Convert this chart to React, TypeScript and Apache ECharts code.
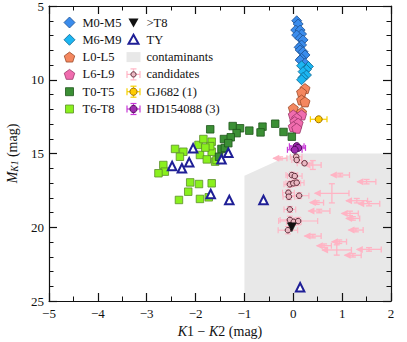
import React, { useEffect, useRef } from "react";
import * as echarts from "echarts";

// ---------------- data ----------------
const m05X = [0.07, 0.10, 0.05, 0.14, 0.17, 0.07, 0.14, 0.20, 0.17, 0.12, 0.14, 0.20, 0.24, 0.17, 0.14, 0.24];
const m05Y = [6.00, 6.22, 6.63, 6.63, 6.90, 6.97, 7.19, 7.30, 7.64, 7.80, 7.98, 8.10, 8.32, 8.55, 8.66, 8.88];
const m69X = [0.17, 0.31, 0.27, 0.20, 0.27, 0.20, 0.17];
const m69Y = [9.05, 9.10, 9.30, 9.45, 9.68, 9.84, 10.00];
const l05X = [0.24, 0.17, 0.17, 0.24, 0.00, 0.17];
const l05Y = [10.60, 10.85, 11.37, 11.50, 11.94, 12.20];
const l69X = [0.00, 0.17, 0.07, 0.03, 0.10, 0.00, 0.07];
const l69Y = [12.39, 12.39, 12.61, 12.84, 12.95, 13.18, 13.29];
const t05X = [-1.70, -1.24, -1.09, -1.16, -0.90, -0.63, -0.67, -0.37, -0.20, -0.03, -1.42, -1.28, -1.47, -1.52, -1.40, -1.33];
const t05Y = [13.36, 13.14, 13.29, 13.62, 13.45, 13.18, 13.57, 12.98, 13.54, 13.86, 14.02, 13.90, 14.69, 15.22, 14.62, 14.30];
const t68X = [-2.42, -2.25, -2.32, -2.66, -2.63, -2.76, -1.94, -1.84, -1.67, -1.67, -1.91, -1.77, -1.60, -1.70, -2.11, -1.93, -1.67, -2.15, -1.91, -2.34, -1.73, -1.57, -1.80];
const t68Y = [14.69, 14.88, 15.22, 15.78, 16.23, 16.34, 14.42, 14.02, 14.20, 14.88, 15.10, 15.40, 15.55, 14.50, 16.96, 17.07, 17.02, 17.59, 18.08, 18.15, 17.97, 15.44, 14.60];
const gtT8X = [-0.03];
const gtT8Y = [20.0];
const tyX = [-2.05, -2.48, -2.28, -2.13, -1.47, -1.33, -1.69, -1.31, -0.61, 0.14];
const tyY = [14.65, 15.85, 16.00, 15.60, 15.39, 14.95, 17.75, 18.15, 18.15, 24.07];

const contamX = [-1, -1, 0, 2, 2];
const contamY = [25, 16.5, 15, 15, 25];

const candX = [0.06, 0.07, 0.23, -0.03, 0.03, -0.07, 0.00, 0.07, -0.10, -0.09, 0.12, -0.07, -0.07, 0.01, 0.10, -0.11];
const candY = [15.22, 15.44, 15.66, 16.46, 16.53, 17.09, 17.02, 16.98, 17.66, 17.93, 17.86, 18.79, 19.50, 19.63, 19.58, 20.20];
const candXErr = [0.12, 0.10, 0.15, 0.12, 0.15, 0.12, 0.15, 0.15, 0.12, 0.12, 0.20, 0.12, 0.20, 0.15, 0.40, 0.20];
const candYErr = [0.15, 0.15, 0.15, 0.20, 0.20, 0.20, 0.20, 0.20, 0.20, 0.20, 0.20, 0.20, 0.25, 0.25, 0.25, 0.25];

const limX = [-0.27, 0.40, 0.96, 1.50, 0.79, 1.30, 1.55, 0.48, 0.53, 1.16, 1.22, 1.28, 0.40, 0.94, 0.63, 0.89, 1.55, 1.22];
const limY = [15.33, 15.78, 16.46, 16.91, 17.70, 18.20, 18.40, 18.33, 18.90, 19.06, 19.40, 20.19, 20.60, 20.98, 21.25, 21.54, 21.50, 21.90];
const limXErr = [0.14, 0.17, 0.19, 0.19, 0.35, 0.22, 0.22, 0.14, 0.22, 0.17, 0.14, 0.15, 0.17, 0.15, 0.15, 0.30, 0.25, 0.17];
const limYErr = [0.10, 0.30, 0.12, 0.15, 0.65, 0.15, 0.15, 0.12, 0.12, 0.15, 0.12, 0.12, 0.12, 0.12, 0.12, 0.35, 0.12, 0.12];

const gjX = [0.52];
const gjY = [12.68];
const gjXErr = [0.17];
const gjYErr = [0.08];

const hdX = [0.07, 0.10, 0.03];
const hdY = [14.50, 14.62, 14.75];
const hdXErr = [0.15, 0.15, 0.15];
const hdYErr = [0.10, 0.10, 0.10];

const legendLeft = ["M0-M5", "M6-M9", "L0-L5", "L6-L9", "T0-T5", "T6-T8"];
const legendRight = [">T8", "TY", "contaminants", "candidates", "GJ682 (1)", "HD154088 (3)"];

const xMin = -5, xMax = 2, xStep = 1;
const yMin = 5, yMax = 25, yStep = 5;

// ---------------- styles ----------------
const FONT = "'Liberation Serif', 'Times New Roman', serif";
const C = {
  m05: "#3a8cec", m05b: "#1d4f8f",
  m69: "#1cb6f2", m69b: "#0d6690",
  l05: "#f4875f", l05b: "#9a4a2a",
  l69: "#f06cae", l69b: "#9a3468",
  t05: "#3b8f35", t05b: "#1e561b",
  t68: "#8af01e", t68b: "#5b8e28",
  ty: "#1f1f96",
  contam: "#e8e8e8",
  cand: "#eab8c2", candb: "#5a2a36", candErr: "#ffb4c4",
  gj: "#ffcc00", gjb: "#a07000", gjErr: "#f5d000",
  hd: "#a02cb0", hdb: "#4f0f5a", hdErr: "#c83ad8",
};

const pentagon = "path://M0,-1L0.951,-0.309L0.588,0.809L-0.588,0.809L-0.951,-0.309Z";
const pts = (xs: number[], ys: number[]) => xs.map((x, i) => [x, ys[i]]);
const quad = (xs: number[], ys: number[], ex: number[], ey: number[]) => xs.map((x, i) => [x, ys[i], ex[i], ey[i]]);
const minus = (v: number) => (v < 0 ? "\u2212" + Math.abs(v) : String(v));

function ln(a: number[], b: number[], stroke: string, lw: number) {
  return { type: "line", shape: { x1: a[0], y1: a[1], x2: b[0], y2: b[1] }, style: { stroke, lineWidth: lw } };
}

function errRender(color: string, cap: number, lw: number, arrow: boolean) {
  return (params: any, api: any) => {
    const x = api.value(0), y = api.value(1), ex = api.value(2), ey = api.value(3);
    const l = api.coord([x - ex, y]);
    const r = api.coord([x + ex, y]);
    const t = api.coord([x, y - ey]);
    const b = api.coord([x, y + ey]);
    const ch: any[] = [];
    ch.push(ln(l, r, color, lw));
    ch.push(ln([r[0], r[1] - cap], [r[0], r[1] + cap], color, lw));
    if (arrow) {
      ch.push({
        type: "polygon",
        shape: { points: [[l[0] - 1, l[1]], [l[0] + 6, l[1] - 3.5], [l[0] + 6, l[1] + 3.5]] },
        style: { fill: color },
      });
    } else {
      ch.push(ln([l[0], l[1] - cap], [l[0], l[1] + cap], color, lw));
    }
    ch.push(ln(t, b, color, lw));
    ch.push(ln([t[0] - cap, t[1]], [t[0] + cap, t[1]], color, lw));
    ch.push(ln([b[0] - cap, b[1]], [b[0] + cap, b[1]], color, lw));
    return { type: "group", children: ch };
  };
}

function errSeries(name: string, data: any[], color: string, cap: number, lw: number, arrow = false, z = 3) {
  return {
    type: "custom", name, silent: true, z,
    data, encode: { x: 0, y: 1 },
    renderItem: errRender(color, cap, lw, arrow),
  };
}

function scatter(name: string, data: any[], symbol: string, size: number, color: string, border: string, bw = 0.8, z = 5, rotate = 0) {
  return {
    type: "scatter", name, data, symbol, symbolSize: size, symbolRotate: rotate, z,
    itemStyle: { color, borderColor: border, borderWidth: bw, opacity: 1 },
    emphasis: { disabled: true },
  };
}

// ---------------- legend (graphic) ----------------
function legendGraphic() {
  const rows = [22.5, 39.8, 57.1, 74.4, 91.7, 109];
  const xL = 69.5, tL = 82.5, xR = 133.5, tR = 146.5;
  const els: any[] = [];
  const txt = (x: number, y: number, s: string) => ({
    type: "text", x, y,
    style: { text: s, fontFamily: FONT, fontSize: 12.5, fill: "#111", verticalAlign: "middle", align: "left" },
  });
  const penta = (cx: number, cy: number, r: number) =>
    [0, 1, 2, 3, 4].map((k) => {
      const a = -Math.PI / 2 + (k * 2 * Math.PI) / 5;
      return [cx + r * Math.cos(a), cy + r * Math.sin(a)];
    });
  const diamond = (cx: number, cy: number, r: number) => [[cx, cy - r], [cx + r, cy], [cx, cy + r], [cx - r, cy]];
  els.push({ type: "polygon", shape: { points: diamond(xL, rows[0], 5.5) }, style: { fill: C.m05, stroke: C.m05b, lineWidth: 0.8 } });
  els.push({ type: "polygon", shape: { points: diamond(xL, rows[1], 5.5) }, style: { fill: C.m69, stroke: C.m69b, lineWidth: 0.8 } });
  els.push({ type: "polygon", shape: { points: penta(xL, rows[2] + 0.5, 5.5) }, style: { fill: C.l05, stroke: C.l05b, lineWidth: 0.8 } });
  els.push({ type: "polygon", shape: { points: penta(xL, rows[3] + 0.5, 5.5) }, style: { fill: C.l69, stroke: C.l69b, lineWidth: 0.8 } });
  els.push({ type: "rect", shape: { x: xL - 4, y: rows[4] - 4, width: 8, height: 8 }, style: { fill: C.t05, stroke: C.t05b, lineWidth: 0.8 } });
  els.push({ type: "rect", shape: { x: xL - 4, y: rows[5] - 4, width: 8, height: 8 }, style: { fill: C.t68, stroke: C.t68b, lineWidth: 0.8 } });
  legendLeft.forEach((s, i) => els.push(txt(tL, rows[i], s)));
  els.push({ type: "polygon", shape: { points: [[xR - 5, rows[0] - 4], [xR + 5, rows[0] - 4], [xR, rows[0] + 5]] }, style: { fill: "#111" } });
  els.push({ type: "polygon", shape: { points: [[xR, rows[1] - 5], [xR + 5, rows[1] + 4], [xR - 5, rows[1] + 4]] }, style: { fill: "#fff", stroke: C.ty, lineWidth: 2 } });
  els.push({ type: "rect", shape: { x: xR - 7, y: rows[2] - 5, width: 14, height: 10 }, style: { fill: C.contam } });
  const errIcon = (cy: number, ec: string, fc: string, bc: string, r: number) => {
    els.push(ln([xR - 6.5, cy], [xR + 6.5, cy], ec, 1.2));
    els.push(ln([xR - 6.5, cy - 3.5], [xR - 6.5, cy + 3.5], ec, 1.2));
    els.push(ln([xR + 6.5, cy - 3.5], [xR + 6.5, cy + 3.5], ec, 1.2));
    els.push(ln([xR, cy - 5.5], [xR, cy + 5.5], ec, 1.2));
    els.push(ln([xR - 3, cy - 5.5], [xR + 3, cy - 5.5], ec, 1.2));
    els.push(ln([xR - 3, cy + 5.5], [xR + 3, cy + 5.5], ec, 1.2));
    els.push({ type: "circle", shape: { cx: xR, cy, r }, style: { fill: fc, stroke: bc, lineWidth: 1 } });
  };
  errIcon(rows[3], C.candErr, C.cand, C.candb, 2.6);
  errIcon(rows[4], C.gjErr, C.gj, C.gjb, 3.6);
  errIcon(rows[5], C.hdErr, C.hd, C.hdb, 3.6);
  legendRight.forEach((s, i) => els.push(txt(tR, rows[i], s)));
  return els;
}

// ---------------- axes ----------------
const axisLineStyle = { color: "#111", width: 1.2 };
const labelStyle = { color: "#111", fontFamily: FONT, fontSize: 13 };

function xAxisCfg(pos: "bottom" | "top", labels: boolean): any {
  return {
    type: "value", min: xMin, max: xMax, interval: xStep, position: pos,
    axisLine: { show: true, onZero: false, lineStyle: axisLineStyle },
    axisTick: { show: true, inside: true, length: 8, lineStyle: { color: "#111", width: 1.2 } },
    minorTick: { show: true, splitNumber: 2, length: 4.5, lineStyle: { color: "#111", width: 1 } },
    splitLine: { show: false }, minorSplitLine: { show: false },
    axisLabel: labels ? { ...labelStyle, margin: 6, formatter: minus } : { show: false },
    ...(labels
      ? {
          name: "{i|K}1 \u2212 {i|K}2 (mag)",
          nameLocation: "middle",
          nameGap: 22,
          nameTextStyle: {
            fontFamily: FONT, fontSize: 14, color: "#111",
            rich: { i: { fontFamily: FONT, fontSize: 14, fontStyle: "italic", color: "#111" } },
          },
        }
      : {}),
  };
}

function yAxisCfg(pos: "left" | "right", labels: boolean): any {
  return {
    type: "value", min: yMin, max: yMax, interval: yStep, inverse: true, position: pos,
    axisLine: { show: true, onZero: false, lineStyle: axisLineStyle },
    axisTick: { show: true, inside: true, length: 8, lineStyle: { color: "#111", width: 1.2 } },
    minorTick: { show: true, splitNumber: 5, length: 4.5, lineStyle: { color: "#111", width: 1 } },
    splitLine: { show: false }, minorSplitLine: { show: false },
    axisLabel: labels ? { ...labelStyle, margin: 5 } : { show: false },
    ...(labels
      ? {
          name: "{i|M}{s|K1} (mag)",
          nameLocation: "middle",
          nameGap: 28,
          nameRotate: 90,
          nameTextStyle: {
            fontFamily: FONT, fontSize: 14, color: "#111", lineHeight: 16,
            rich: {
              i: { fontFamily: FONT, fontSize: 14, fontStyle: "italic", color: "#111", lineHeight: 16 },
              s: { fontFamily: FONT, fontSize: 9.5, fontStyle: "italic", color: "#111", lineHeight: 9, verticalAlign: "bottom" },
            },
          },
        }
      : {}),
  };
}

export default function App() {
  const ref = useRef<HTMLDivElement>(null);
  useEffect(() => {
    if (!ref.current) return;
    const chart = echarts.init(ref.current, undefined, { renderer: "svg" });
    const option: any = {
      animation: false,
      backgroundColor: "#fff",
      grid: { left: 49, right: 16, top: 6, bottom: 41, containLabel: false, outerBoundsMode: "none" },
      xAxis: [xAxisCfg("bottom", true), xAxisCfg("top", false)],
      yAxis: [yAxisCfg("left", true), yAxisCfg("right", false)],
      graphic: legendGraphic(),
      series: [
        {
          type: "custom", name: "contaminants", silent: true, z: -1,
          data: pts(contamX, contamY), encode: { x: 0, y: 1 },
          renderItem: (params: any, api: any) => {
            if (params.dataIndex !== 0) return null;
            const points = contamX.map((x, i) => api.coord([x, contamY[i]]));
            return { type: "polygon", shape: { points }, style: { fill: C.contam } };
          },
        },
        errSeries("candidates err", quad(candX, candY, candXErr, candYErr), C.candErr, 3, 1.1),
        errSeries("candidate limits", quad(limX, limY, limXErr, limYErr), C.candErr, 3, 1.3, true),
        scatter("candidates", pts(candX, candY), "circle", 5.5, C.cand, C.candb, 1, 4),
        scatter("M0-M5", pts(m05X, m05Y), "diamond", 10, C.m05, C.m05b),
        scatter("M6-M9", pts(m69X, m69Y), "diamond", 10, C.m69, C.m69b),
        scatter("L0-L5", pts(l05X, l05Y), pentagon, 10, C.l05, C.l05b),
        scatter("L6-L9", pts(l69X, l69Y), pentagon, 10, C.l69, C.l69b),
        scatter("T6-T8", pts(t68X, t68Y), "rect", 7.5, C.t68, C.t68b),
        scatter("T0-T5", pts(t05X, t05Y), "rect", 7.5, C.t05, C.t05b),
        scatter("TY", pts(tyX, tyY), "triangle", 8.5, "#fff", C.ty, 2, 6),
        scatter(">T8", pts(gtT8X, gtT8Y), "triangle", 9, "#111", "#111", 0.5, 6, 180),
        errSeries("GJ682 err", quad(gjX, gjY, gjXErr, gjYErr), C.gjErr, 3, 1.2, false, 6),
        scatter("GJ682 (1)", pts(gjX, gjY), "circle", 7, C.gj, C.gjb, 1, 7),
        errSeries("HD154088 err", quad(hdX, hdY, hdXErr, hdYErr), C.hdErr, 3, 1.2, false, 6),
        scatter("HD154088 (3)", pts(hdX, hdY), "circle", 7, C.hd, C.hdb, 1, 7),
      ],
    };
    chart.setOption(option);
    return () => chart.dispose();
  }, []);
  return (
    <div
      ref={ref}
      style={{ position: "fixed", left: 0, top: 0, width: 407, height: 342, background: "#fff" }}
    />
  );
}
